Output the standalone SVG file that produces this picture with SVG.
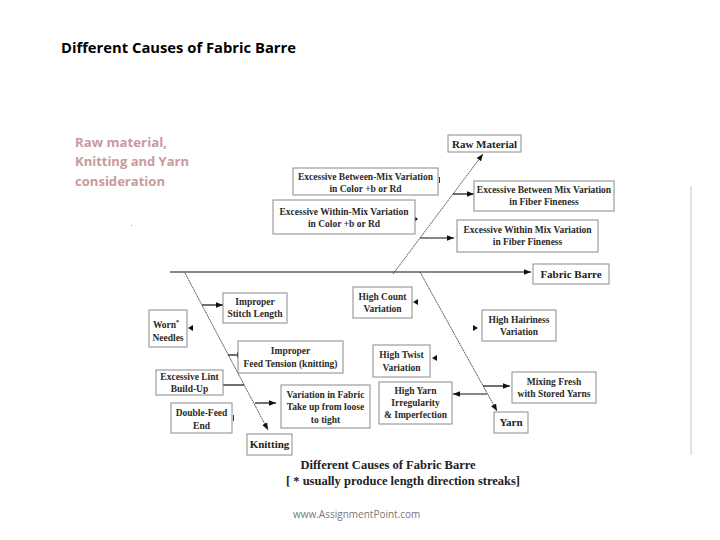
<svg xmlns="http://www.w3.org/2000/svg" width="720" height="540" viewBox="0 0 720 540">
<defs>
<marker id="arr" viewBox="0 0 10 10" refX="10" refY="5" markerWidth="7" markerHeight="7" markerUnits="userSpaceOnUse" orient="auto">
<path d="M0,1 L10,5 L0,9 Z" fill="#111"/>
</marker>
</defs>
<style>
.bx{fill:#fff;stroke:#8a8a8a;stroke-width:1}
.t{font-family:"Liberation Serif","Times New Roman",serif;font-weight:bold;font-size:9.5px;fill:#2a2a2a;text-anchor:middle}
.tl{font-family:"Liberation Serif","Times New Roman",serif;font-weight:bold;font-size:11px;fill:#222;text-anchor:middle}
.ln{stroke:#111;stroke-width:1.2;fill:none}
.bn{stroke:#333;stroke-width:0.8;fill:none;stroke-dasharray:2 0.6}
.ah{fill:#111}
</style>
<rect width="720" height="540" fill="#fff"/>
<text x="61" y="53" font-family="'Open Sans','Liberation Sans',sans-serif" font-weight="bold" font-size="13.5" fill="#000" textLength="235" lengthAdjust="spacingAndGlyphs">Different Causes of Fabric Barre</text>
<g font-family="'Open Sans','Liberation Sans',sans-serif" font-weight="bold" font-size="12.5" fill="#c99a9c">
<text x="75" y="147" textLength="92" lengthAdjust="spacingAndGlyphs">Raw material,</text>
<text x="75" y="166" textLength="114" lengthAdjust="spacingAndGlyphs">Knitting and Yarn</text>
<text x="75" y="186" textLength="90" lengthAdjust="spacingAndGlyphs">consideration</text>
</g>
<rect x="131" y="225" width="1" height="1" fill="#999"/>
<line x1="691" y1="186" x2="691" y2="455" stroke="#d8d8d8" stroke-width="1.5"/>

<g id="connectors">
<line class="ln" x1="170" y1="272" x2="531" y2="272" marker-end="url(#arr)"/>
<line class="bn" x1="393" y1="274" x2="483" y2="154" marker-end="url(#arr)"/>
<line class="bn" x1="185" y1="273" x2="268" y2="430" marker-end="url(#arr)"/>
<line class="bn" x1="420" y1="272" x2="497" y2="411" marker-end="url(#arr)"/>
<line class="ln" x1="453" y1="194" x2="474" y2="194" marker-end="url(#arr)"/>
<line class="ln" x1="420" y1="238" x2="454" y2="238" marker-end="url(#arr)"/>
<line class="ln" x1="202" y1="305" x2="223" y2="305" marker-end="url(#arr)"/>
<line class="ln" x1="228" y1="355" x2="244" y2="355" marker-end="url(#arr)"/>
<line class="ln" x1="223" y1="385" x2="244" y2="385"/>
<line class="ln" x1="255" y1="403" x2="276" y2="403" marker-end="url(#arr)"/>
<line class="ln" x1="487" y1="394" x2="453" y2="394" marker-end="url(#arr)"/>
<line class="ln" x1="483" y1="386" x2="510" y2="386" marker-end="url(#arr)"/>
<path class="ah" d="M188,328 L193,325 L193,331 Z"/>
<path class="ah" d="M413,302 L418,299 L418,305 Z"/>
<path class="ah" d="M432,358 L437,355 L437,361 Z"/>
<path class="ah" d="M478,328 L473,325 L473,331 Z"/>
<path class="ah" d="M418,219 L414,216 L414,222 Z"/>
<rect x="439" y="177" width="1" height="6" fill="#333"/>
<rect x="233" y="415" width="1" height="6" fill="#333"/>
</g>

<g id="raw-material"><rect class="bx" x="448" y="135" width="73" height="17"/><text class="tl" x="484.5" y="147.5">Raw Material</text></g>
<g id="fabric-barre"><rect class="bx" x="533" y="264" width="76" height="20"/><text class="tl" x="571" y="278">Fabric Barre</text></g>
<g id="between-mix-color"><rect class="bx" x="293" y="168" width="145" height="27"/><text class="t" x="365.5" y="180">Excessive Between-Mix Variation</text><text class="t" x="365.5" y="192">in Color +b or Rd</text></g>
<g id="within-mix-color"><rect class="bx" x="273" y="200" width="142" height="34"/><text class="t" x="344" y="215">Excessive Within-Mix Variation</text><text class="t" x="344" y="227">in Color +b or Rd</text></g>
<g id="between-mix-fiber"><rect class="bx" x="474" y="181" width="140" height="30"/><text class="t" x="544" y="193">Excessive Between Mix Variation</text><text class="t" x="544" y="205">in Fiber Fineness</text></g>
<g id="within-mix-fiber"><rect class="bx" x="457" y="220" width="141" height="32"/><text class="t" x="527.5" y="233">Excessive Within Mix Variation</text><text class="t" x="527.5" y="245">in Fiber Fineness</text></g>
<g id="stitch-length"><rect class="bx" x="223" y="293" width="64" height="30"/><text class="t" x="255" y="305">Improper</text><text class="t" x="255" y="317">Stitch Length</text></g>
<g id="worn-needles"><rect class="bx" x="149" y="310" width="38" height="37"/><text class="t" x="166" y="328">Worn<tspan font-size="6" dy="-4">*</tspan></text><text class="t" x="168" y="341">Needles</text></g>
<g id="feed-tension"><rect class="bx" x="238" y="341" width="105" height="32"/><text class="t" x="290.5" y="354">Improper</text><text class="t" x="290.5" y="367">Feed Tension (knitting)</text></g>
<g id="lint"><rect class="bx" x="156" y="370" width="67" height="25"/><text class="t" x="189.5" y="380">Excessive Lint</text><text class="t" x="189.5" y="392">Build-Up</text></g>
<g id="double-feed"><rect class="bx" x="171" y="403" width="61" height="30"/><text class="t" x="201.5" y="416">Double-Feed</text><text class="t" x="201.5" y="429">End</text></g>
<g id="take-up"><rect class="bx" x="281" y="385" width="89" height="43"/><text class="t" x="325.5" y="398">Variation in Fabric</text><text class="t" x="325.5" y="410">Take up from loose</text><text class="t" x="325.5" y="423">to tight</text></g>
<g id="knitting"><rect class="bx" x="247" y="434" width="45" height="21"/><text class="tl" x="269.5" y="448">Knitting</text></g>
<g id="count"><rect class="bx" x="353" y="287" width="59" height="31"/><text class="t" x="382.5" y="300">High Count</text><text class="t" x="382.5" y="312">Variation</text></g>
<g id="hairiness"><rect class="bx" x="482" y="310" width="74" height="31"/><text class="t" x="519" y="323">High Hairiness</text><text class="t" x="519" y="335">Variation</text></g>
<g id="twist"><rect class="bx" x="373" y="345" width="57" height="32"/><text class="t" x="401.5" y="358">High Twist</text><text class="t" x="401.5" y="371">Variation</text></g>
<g id="irregularity"><rect class="bx" x="379" y="382" width="73" height="42"/><text class="t" x="415.5" y="394">High Yarn</text><text class="t" x="415.5" y="406">Irregularity</text><text class="t" x="415.5" y="418">&amp; Imperfection</text></g>
<g id="mixing"><rect class="bx" x="512" y="372" width="84" height="31"/><text class="t" x="554" y="385">Mixing Fresh</text><text class="t" x="554" y="397">with Stored Yarns</text></g>
<g id="yarn"><rect class="bx" x="494" y="412" width="34" height="21"/><text class="tl" x="511" y="426">Yarn</text></g>

<text x="388" y="469" font-family="'Liberation Serif','Times New Roman',serif" font-weight="bold" font-size="12.5" fill="#222" text-anchor="middle">Different Causes of Fabric Barre</text>
<text x="403" y="485" font-family="'Liberation Serif','Times New Roman',serif" font-weight="bold" font-size="12.5" fill="#222" text-anchor="middle">[ * usually produce length direction streaks]</text>
<text x="293" y="518" font-family="'Open Sans','Liberation Sans',sans-serif" font-size="10" fill="#777">www.AssignmentPoint.com</text>
</svg>
